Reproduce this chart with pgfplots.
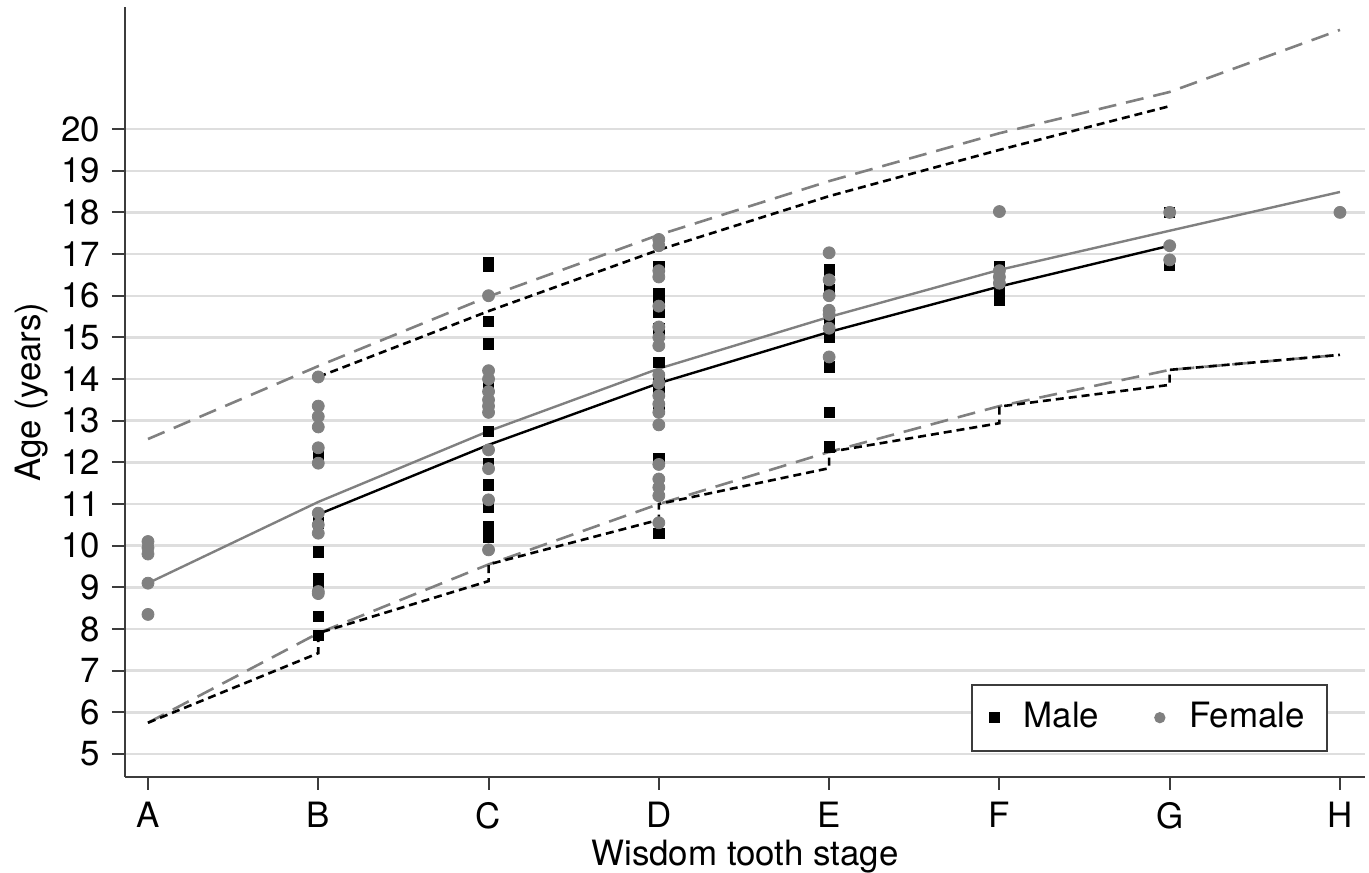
\documentclass[border=0pt]{standalone}
\usepackage{fontspec}
\setmainfont{TeX Gyre Heros}
\usepackage{pgfplots}
\pgfplotsset{compat=1.18}
\usetikzlibrary{calc}
\definecolor{fgray}{RGB}{128,128,128}
\definecolor{gridgray}{RGB}{222,222,222}
\definecolor{axgray}{RGB}{60,60,60}
\begin{document}
\fontsize{17.5}{21}\selectfont
\begin{tikzpicture}
\begin{axis}[name=ax, scale only axis, width=620bp, height=385bp,
 xmin=-0.135, xmax=7.147, ymin=4.448, ymax=22.93,
 axis x line*=bottom, axis y line*=left,
 axis line style={axgray, line width=1bp, -},
 xtick={0,...,7}, xticklabels={A,B,C,D,E,F,G,H},
 ytick={5,...,20},
 tick align=outside, major tick length=6.5bp,
 tick style={axgray, line width=1bp},
 ymajorgrids, grid style={gridgray, line width=1.2bp},
 /pgf/number format/assume math mode=true,
 tick label style={font=\fontsize{17.5}{21}\selectfont},
 label style={font=\fontsize{17.5}{21}\selectfont},
 xlabel={Wisdom tooth stage}, ylabel={Age (years)},
 xlabel style={at={(axis description cs:0.5,-0.1143)}, anchor=base},
 ylabel style={at={(axis description cs:-0.0685,0.5)}, anchor=base},
 legend columns=2,
 legend style={at={(0.970,0.033)}, anchor=south east, draw=axgray, line width=1bp,
   font=\fontsize{17.5}{21}\selectfont, inner xsep=9bp, inner ysep=6.8bp,
   /tikz/every odd column/.append style={column sep=10.5bp},
   /tikz/every even column/.append style={column sep=26bp}},
]
\addplot[only marks, mark=square*, mark size=2.6bp, black, legend image post style={mark size=2.2bp}] coordinates {
(1,12.2) (1,10.55) (1,9.85) (1,9.2) (1,9.05) (1,8.3) (1,7.85)
(2,16.8) (2,16.7) (2,15.38) (2,14.84) (2,13.9) (2,13.78) (2,12.74) (2,11.98) (2,11.46) (2,10.93) (2,10.45) (2,10.3) (2,10.2)
(3,16.7) (3,16.05) (3,15.85) (3,15.6) (3,15.2) (3,14.4) (3,14.0) (3,13.7) (3,13.3) (3,12.1) (3,10.3)
(4,16.62) (4,16.14) (4,15.42) (4,15.0) (4,14.29) (4,13.2) (4,12.37)
(5,16.7) (5,16.5) (5,16.3) (5,16.1) (5,15.9)
(6,18.0) (6,16.74)
};
\addlegendentry{Male}
\addplot[only marks, mark=*, mark size=3bp, fgray, mark options={draw=fgray, fill=fgray}, legend image post style={mark size=2.3bp}] coordinates {
(0,10.1) (0,9.95) (0,9.8) (0,9.1) (0,8.35)
(1,14.05) (1,13.35) (1,13.1) (1,12.85) (1,12.35) (1,11.98) (1,10.78) (1,10.5) (1,10.3) (1,8.9) (1,8.85)
(2,16.0) (2,14.2) (2,14.0) (2,13.7) (2,13.5) (2,13.35) (2,13.2) (2,12.3) (2,11.85) (2,11.1) (2,9.9)
(3,17.35) (3,17.2) (3,16.6) (3,16.45) (3,15.75) (3,15.25) (3,15.0) (3,14.8) (3,14.1) (3,13.9) (3,13.6) (3,13.4) (3,13.2) (3,12.9) (3,11.95) (3,11.6) (3,11.4) (3,11.2) (3,10.55)
(4,17.03) (4,16.38) (4,16.0) (4,15.65) (4,15.55) (4,15.22) (4,14.53)
(5,18.02) (5,16.6) (5,16.45) (5,16.3)
(6,18.0) (6,17.2) (6,16.86)
(7,18.0)
};
\addlegendentry{Female}
% female fit and bounds
\addplot[forget plot, fgray, line width=1.2bp] coordinates {
(0,9.1) (1,11.05) (2,12.75) (3,14.25) (4,15.49) (5,16.62) (6,17.56) (7,18.49)};
\addplot[forget plot, fgray, line width=1.3bp, dash pattern=on 9bp off 5bp] coordinates {
(0,12.56) (1,14.31) (2,15.98) (3,17.46) (4,18.75) (5,19.9) (6,20.89) (7,22.38)};
\addplot[forget plot, fgray, line width=1.3bp, dash pattern=on 9bp off 5bp] coordinates {
(0,5.75) (1,7.9) (2,9.55) (3,11.0) (4,12.25) (5,13.35) (6,14.22) (7,14.58)};
% male fit and bounds
\addplot[forget plot, black, line width=1.2bp] coordinates {
(1,10.75) (2,12.42) (3,13.9) (4,15.13) (5,16.22) (6,17.2)};
\addplot[forget plot, black, line width=1.3bp, dash pattern=on 4bp off 2.5bp] coordinates {
(1,14.05) (2,15.63) (3,17.1) (4,18.39) (5,19.5) (6,20.55)};
\addplot[forget plot, black, line width=1.3bp, dash pattern=on 4bp off 2.5bp] coordinates {
(0,5.75) (1,7.42) (1,7.9) (2,9.15) (2,9.55) (3,10.62) (3,11.0) (4,11.86) (4,12.25) (5,12.94) (5,13.34) (6,13.86) (6,14.22) (7,14.58)};
\end{axis}
\pgfresetboundingbox
\path ($(ax.south west)+(-62.5bp,-48bp)$) rectangle ($(ax.north east)+(2bp,3.5bp)$);
\end{tikzpicture}
\end{document}
